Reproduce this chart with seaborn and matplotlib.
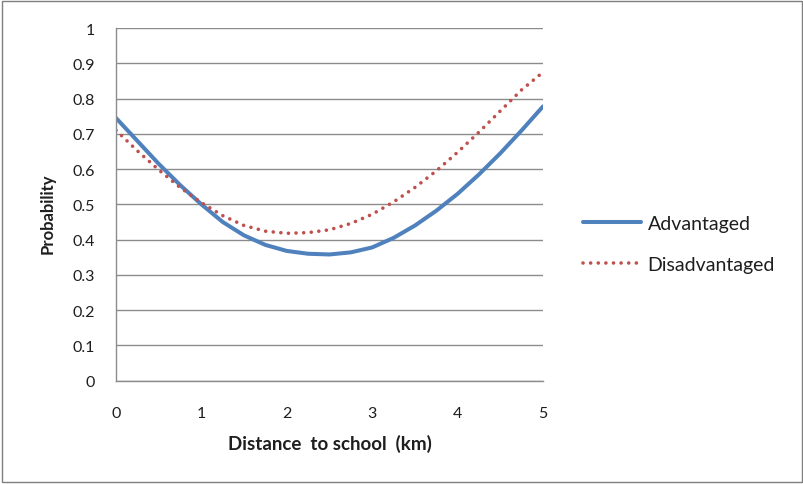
import matplotlib
matplotlib.use("Agg")
import matplotlib.pyplot as plt
import numpy as np
import pandas as pd
import seaborn as sns
from matplotlib.patches import Rectangle

# values
distance = [0, 0.25, 0.5, 0.75, 1, 1.25, 1.5, 1.75, 2, 2.25, 2.5,
            2.75, 3, 3.25, 3.5, 3.75, 4, 4.25, 4.5, 4.75, 5]
advantaged = [0.745, 0.68, 0.615, 0.555, 0.50, 0.45, 0.412, 0.385, 0.368, 0.36, 0.358,
              0.364, 0.378, 0.405, 0.44, 0.482, 0.53, 0.585, 0.645, 0.71, 0.778]
disadvantaged = [0.71, 0.652, 0.598, 0.548, 0.505, 0.468, 0.44, 0.424, 0.418, 0.42, 0.428,
                 0.446, 0.472, 0.507, 0.548, 0.595, 0.648, 0.705, 0.765, 0.825, 0.875]
x_ticks = [0, 1, 2, 3, 4, 5]
y_ticks = [0, 0.1, 0.2, 0.3, 0.4, 0.5, 0.6, 0.7, 0.8, 0.9, 1]
y_labels = ["0", "0.1", "0.2", "0.3", "0.4", "0.5", "0.6", "0.7", "0.8", "0.9", "1"]

df = pd.DataFrame({"Distance": distance, "Advantaged": advantaged,
                   "Disadvantaged": disadvantaged})

sns.set_style("white")
plt.rcParams["font.family"] = ["Lato", "DejaVu Sans"]

fig = plt.figure(figsize=(8.04, 4.85), dpi=100)
ax = fig.add_axes([0.1443, 0.213, 0.5311, 0.727])

grid_col = "#8c8c8c"
text_col = "#1e1e1e"
sns.lineplot(data=df, x="Distance", y="Advantaged", ax=ax, color="#4F81BD",
             linewidth=2.9, label="Advantaged")
sns.lineplot(data=df, x="Distance", y="Disadvantaged", ax=ax, color="#C0504D",
             linewidth=2.6, linestyle=(0, (0.01, 2.1)), dash_capstyle="round",
             label="Disadvantaged")

ax.set_xlim(0, 5)
ax.set_ylim(0, 1)
ax.set_xticks(x_ticks)
ax.set_yticks(y_ticks)
ax.set_yticklabels(y_labels)
ax.yaxis.grid(True, color=grid_col, linewidth=1)
ax.set_axisbelow(True)
for side in ["top", "right"]:
    ax.spines[side].set_visible(False)
for side in ["left", "bottom"]:
    ax.spines[side].set_color(grid_col)
    ax.spines[side].set_linewidth(1)
ax.tick_params(axis="both", direction="out", length=6, width=1, color=grid_col,
               labelsize=11.5, labelcolor=text_col)
ax.tick_params(axis="x", pad=12)
ax.tick_params(axis="y", pad=9)

ax.set_xlabel("Distance  to school  (km)", fontsize=13.5, fontweight="bold",
              color=text_col)
ax.set_ylabel("Probability", fontsize=12, fontweight="bold", color=text_col)
ax.xaxis.set_label_coords(0.5, -0.177)
ax.xaxis.label.set_va("center")
ax.yaxis.set_label_coords(-0.159, 0.475)
ax.yaxis.label.set_va("center")

leg = ax.legend(loc="center left", bbox_to_anchor=(583 / 804, 1 - 245 / 485),
                bbox_transform=fig.transFigure, frameon=False, borderpad=0,
                borderaxespad=0, fontsize=14, handlelength=3.0,
                handletextpad=0.32, labelspacing=1.25)
for t in leg.get_texts():
    t.set_color(text_col)

fig.patches.append(Rectangle((0.003, 0.004), 0.994, 0.992, transform=fig.transFigure,
                             fill=False, edgecolor="#7f7f7f", linewidth=1))

fig.savefig("out.png", dpi=100)
